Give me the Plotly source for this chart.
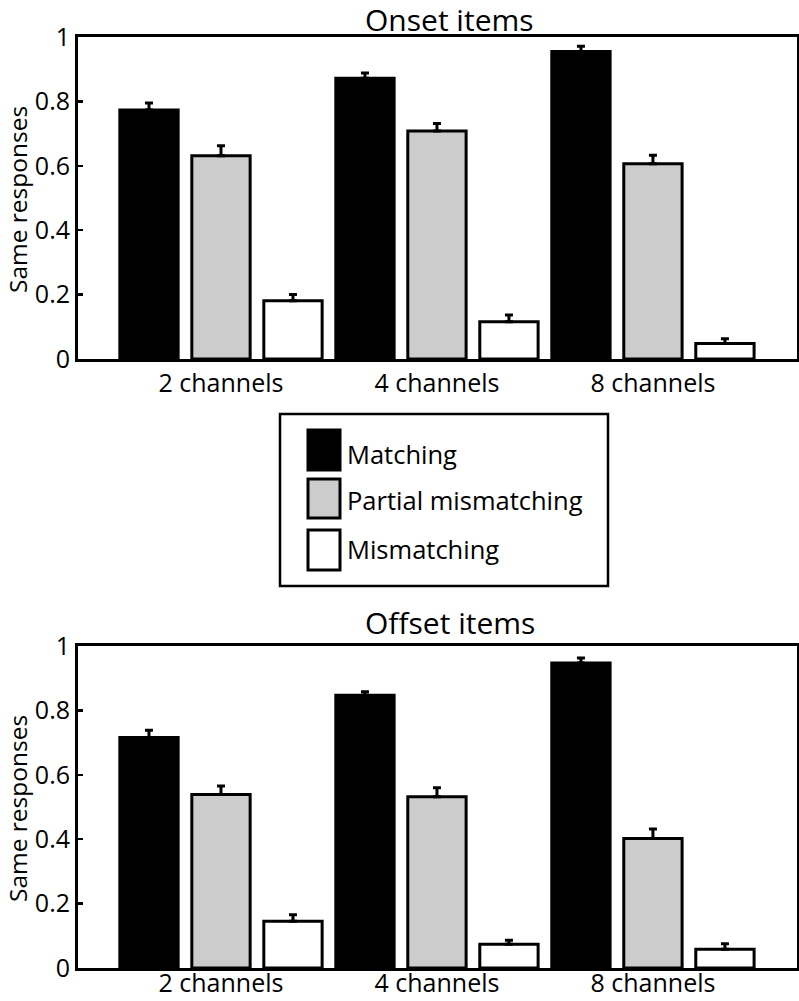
import plotly.graph_objects as go

categories = ["2 channels", "4 channels", "8 channels"]
series_names = ["Matching", "Partial mismatching", "Mismatching"]

onset_matching = [0.773, 0.872, 0.955]
onset_partial = [0.631, 0.708, 0.606]
onset_mismatch = [0.181, 0.116, 0.048]
onset_matching_err = [0.022, 0.016, 0.016]
onset_partial_err = [0.031, 0.023, 0.027]
onset_mismatch_err = [0.019, 0.021, 0.015]

offset_matching = [0.716, 0.847, 0.947]
offset_partial = [0.539, 0.532, 0.402]
offset_mismatch = [0.145, 0.074, 0.058]
offset_matching_err = [0.022, 0.011, 0.016]
offset_partial_err = [0.026, 0.028, 0.030]
offset_mismatch_err = [0.020, 0.012, 0.017]

ytick_vals = [0, 0.2, 0.4, 0.6, 0.8, 1]
ytick_text = ["0", "0.2", "0.4", "0.6", "0.8", "1"]

colors = ["#000000", "#cccccc", "#ffffff"]
FONT = "Open Sans"
W, H = 799, 1001

def px(x):
    return x / W

def py(y):
    return 1 - y / H

fig = go.Figure()

panels = [
    ("x", "y", [onset_matching, onset_partial, onset_mismatch],
     [onset_matching_err, onset_partial_err, onset_mismatch_err]),
    ("x2", "y2", [offset_matching, offset_partial, offset_mismatch],
     [offset_matching_err, offset_partial_err, offset_mismatch_err]),
]
for xa, ya, vals, errs in panels:
    for name, v, e, c in zip(series_names, vals, errs, colors):
        fig.add_trace(go.Bar(
            x=categories, y=v, name=name, xaxis=xa, yaxis=ya,
            marker=dict(color=c, line=dict(color="black", width=3)),
            error_y=dict(type="data", array=e, arrayminus=[0] * len(e),
                         symmetric=False, color="black", thickness=3, width=4),
            showlegend=False, hoverinfo="skip",
        ))

axis_common = dict(showline=True, linecolor="black", linewidth=3, mirror=True,
                   showgrid=False, zeroline=False, automargin=False)
xr = [-0.662, 2.667]
ycommon = dict(range=[0, 1], tickvals=ytick_vals, ticktext=ytick_text, ticks="inside",
               ticklen=5, tickwidth=2.5, tickcolor="black", tickfont=dict(size=25))
fig.update_layout(
    template="none",
    width=W, height=H, margin=dict(l=0, r=0, t=0, b=0, pad=0),
    paper_bgcolor="white", plot_bgcolor="white",
    barmode="group", bargap=0.0, bargroupgap=0.19,
    font=dict(family=FONT, color="black", size=25),
    xaxis=dict(domain=[px(78), px(797)], anchor="y", range=xr, ticks="",
               tickfont=dict(size=25), **axis_common),
    yaxis=dict(domain=[py(359), py(37)], anchor="x", **ycommon, **axis_common),
    xaxis2=dict(domain=[px(78), px(797)], anchor="y2", range=xr, ticks="",
                tickfont=dict(size=25), ticklabelstandoff=-9, **axis_common),
    yaxis2=dict(domain=[py(968), py(646)], anchor="x2", **ycommon, **axis_common),
)

# Axis titles
for yc in [(37 + 359) / 2 + 2, (646 + 968) / 2 + 2]:
    fig.add_annotation(text="Same responses", x=px(17), y=py(yc), xref="paper", yref="paper",
                       showarrow=False, textangle=-90, font=dict(size=24.5),
                       xanchor="center", yanchor="middle")

# Panel titles
fig.add_annotation(text="Onset items", x=px(450), y=py(20), xref="paper", yref="paper",
                   showarrow=False, font=dict(size=30), xanchor="center", yanchor="middle")
fig.add_annotation(text="Offset items", x=px(450), y=py(622), xref="paper", yref="paper",
                   showarrow=False, font=dict(size=30), xanchor="center", yanchor="middle")

# Custom legend box
fig.add_shape(type="rect", xref="paper", yref="paper",
              x0=px(280), x1=px(608), y0=py(586), y1=py(414),
              line=dict(color="black", width=2.5), fillcolor="white")
sw_y = [(430, 470), (479, 518), (530, 570)]
txt_y = [454, 500, 549]
for (y0, y1), ty, name, c in zip(sw_y, txt_y, series_names, colors):
    fig.add_shape(type="rect", xref="paper", yref="paper",
                  x0=px(308), x1=px(340), y0=py(y1), y1=py(y0),
                  line=dict(color="black", width=3), fillcolor=c)
    fig.add_annotation(text=name, x=px(345), y=py(ty), xref="paper", yref="paper",
                       showarrow=False, font=dict(size=25.5), xanchor="left", yanchor="middle")

fig.write_html("out.html", config={"displayModeBar": False, "staticPlot": True},
               post_script="document.body.style.margin='0';document.body.style.overflow='hidden';")
